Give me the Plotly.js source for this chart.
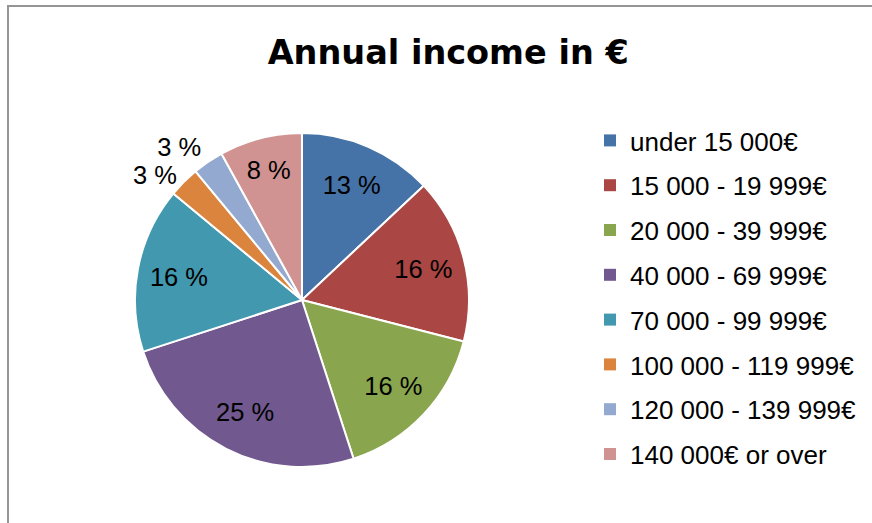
<!DOCTYPE html>
<html>
<head>
<meta charset="utf-8">
<script src="https://cdn.plot.ly/plotly-3.0.1.min.js"></script>
<style>
html,body{margin:0;padding:0;background:#fff;overflow:hidden;}
#wrap{position:relative;width:872px;height:523px;overflow:hidden;}
#chart{position:absolute;left:0;top:0;width:872px;height:523px;}
#frame{position:absolute;left:7px;top:5px;width:880px;height:540px;border-left:2px solid #959595;border-top:2px solid #959595;pointer-events:none;z-index:5;}
.textline{display:none;}
</style>
</head>
<body>
<div id="wrap"><div id="chart"></div><div id="frame"></div></div>
<script>
const categories = [
  "under 15 000€",
  "15 000 - 19 999€",
  "20 000 - 39 999€",
  "40 000 - 69 999€",
  "70 000 - 99 999€",
  "100 000 - 119 999€",
  "120 000 - 139 999€",
  "140 000€ or over"
];
const shares = [13, 16, 16, 25, 16, 3, 3, 8];
const sliceColors = ["#4572A7", "#AA4643", "#89A54E", "#71588F", "#4198AF", "#DB843D", "#93A9CF", "#D19392"];
const outsideLabelPos = ["none", "none", "none", "none", "none", "outside", "outside", "none"];
const insideLabelPos  = ["inside", "inside", "inside", "inside", "inside", "none", "none", "inside"];

const labelFont = { family: "Liberation Sans, Arial, sans-serif", size: 25.5, color: "#000000" };
const pieDomain = { x: [0.1548, 0.5378], y: [0.1071, 0.7457] };

const pieTrace = {
  type: "pie", labels: categories, values: shares, sort: false,
  direction: "clockwise", rotation: 0,
  marker: { colors: sliceColors, line: { color: "#ffffff", width: 2 } },
  texttemplate: "%{value} %", textposition: outsideLabelPos,
  textfont: labelFont, outsidetextfont: labelFont,
  showlegend: false, hoverinfo: "label+percent", domain: pieDomain
};

const labelTrace = {
  type: "pie", labels: categories, values: shares, sort: false,
  direction: "clockwise", rotation: 0, hole: 0.5,
  marker: { colors: categories.map(() => "rgba(0,0,0,0)"), line: { width: 0 } },
  texttemplate: "%{value} %", textposition: insideLabelPos,
  insidetextorientation: "horizontal",
  textfont: labelFont, insidetextfont: labelFont,
  showlegend: false, hoverinfo: "skip", domain: pieDomain
};

const legendTraces = categories.map((name, i) => ({
  type: "scatter", mode: "markers", x: [null], y: [null],
  name: name, legendgroup: "g" + i, showlegend: true,
  marker: { symbol: "square", size: 12, color: sliceColors[i], line: { width: 0 } },
  hoverinfo: "skip"
}));

const layout = {
  width: 872, height: 523,
  margin: { l: 0, r: 0, t: 0, b: 0 },
  paper_bgcolor: "#ffffff", plot_bgcolor: "rgba(0,0,0,0)",
  xaxis: { visible: false }, yaxis: { visible: false },
  title: {
    text: "<b>Annual income in €</b>",
    font: { family: "DejaVu Sans, Verdana, sans-serif", size: 33.5, color: "#000000" },
    x: 0.514, xanchor: "center", y: 0.9006, yanchor: "middle"
  },
  showlegend: true,
  legend: {
    x: 590 / 872, xanchor: "left",
    y: 1 - 117 / 523, yanchor: "top",
    traceorder: "grouped", tracegroupgap: 8,
    font: { family: "Liberation Sans, Arial, sans-serif", size: 26, color: "#000000" },
    bgcolor: "rgba(0,0,0,0)"
  }
};

Plotly.newPlot("chart", [pieTrace, labelTrace].concat(legendTraces), layout, { displayModeBar: false, staticPlot: true });
</script>
</body>
</html>
